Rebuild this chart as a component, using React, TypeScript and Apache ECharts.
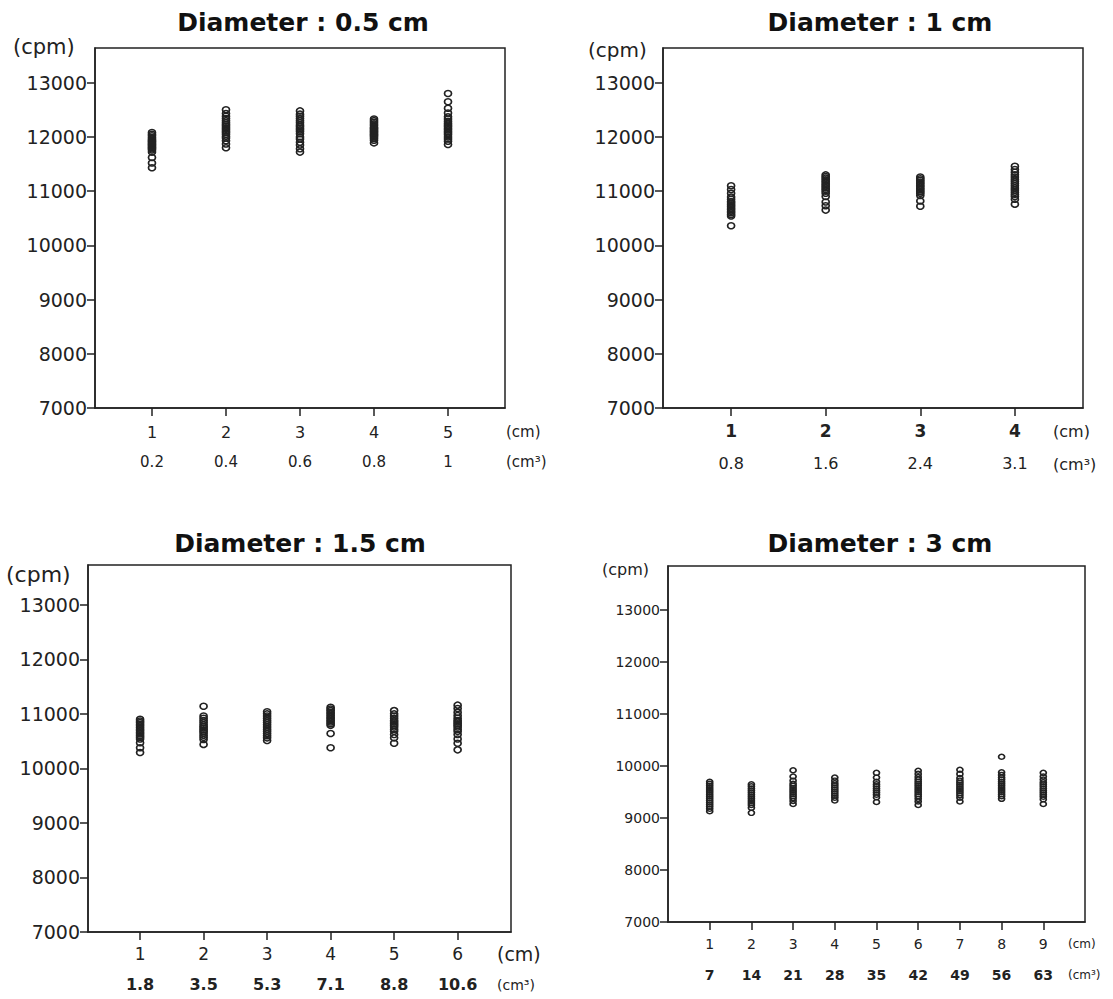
import React, { useEffect, useRef } from "react";
import * as echarts from "echarts";

const FONT = "'DejaVu Sans', sans-serif";

// ---- data ----
const yTicks = [7000, 8000, 9000, 10000, 11000, 12000, 13000];

const titles = ["Diameter : 0.5 cm", "Diameter : 1 cm", "Diameter : 1.5 cm", "Diameter : 3 cm"];

const lengths05 = [1, 2, 3, 4, 5];
const volumes05 = ["0.2", "0.4", "0.6", "0.8", "1"];
const lengths1 = [1, 2, 3, 4];
const volumes1 = ["0.8", "1.6", "2.4", "3.1"];
const lengths15 = [1, 2, 3, 4, 5, 6];
const volumes15 = ["1.8", "3.5", "5.3", "7.1", "8.8", "10.6"];
const lengths3 = [1, 2, 3, 4, 5, 6, 7, 8, 9];
const volumes3 = ["7", "14", "21", "28", "35", "42", "49", "56", "63"];

const cpm05 = [
  [12080, 12050, 12020, 11990, 11960, 11940, 11920, 11900, 11880, 11860, 11840, 11820, 11800, 11780, 11760, 11720, 11620, 11520, 11430],
  [12500, 12430, 12380, 12340, 12300, 12260, 12230, 12200, 12170, 12140, 12110, 12080, 12050, 12010, 11980, 11930, 11870, 11800],
  [12480, 12420, 12380, 12340, 12300, 12260, 12220, 12190, 12160, 12130, 12100, 12060, 12000, 11960, 11900, 11850, 11780, 11720],
  [12330, 12300, 12270, 12240, 12210, 12180, 12160, 12140, 12120, 12100, 12080, 12060, 12040, 12020, 12000, 11970, 11940, 11890],
  [12800, 12650, 12530, 12440, 12370, 12330, 12290, 12250, 12220, 12190, 12160, 12130, 12100, 12070, 12040, 12000, 11960, 11920, 11860],
];
const cpm1 = [
  [11100, 11030, 10960, 10890, 10850, 10810, 10780, 10750, 10720, 10690, 10660, 10630, 10600, 10570, 10540, 10360],
  [11300, 11270, 11240, 11210, 11180, 11150, 11120, 11090, 11060, 11030, 11000, 10960, 10900, 10800, 10730, 10650],
  [11260, 11230, 11200, 11170, 11140, 11110, 11080, 11050, 11020, 10990, 10960, 10920, 10820, 10720],
  [11460, 11400, 11350, 11300, 11260, 11220, 11180, 11140, 11100, 11060, 11020, 10980, 10940, 10900, 10850, 10760],
];
const cpm15 = [
  [10900, 10870, 10840, 10810, 10780, 10750, 10720, 10690, 10660, 10630, 10600, 10570, 10540, 10470, 10380, 10290],
  [11140, 10960, 10920, 10880, 10840, 10800, 10770, 10740, 10710, 10680, 10650, 10610, 10570, 10530, 10440],
  [11040, 11000, 10960, 10920, 10880, 10840, 10800, 10760, 10720, 10680, 10640, 10600, 10560, 10510],
  [11120, 11090, 11060, 11030, 11000, 10970, 10940, 10910, 10880, 10850, 10820, 10790, 10640, 10380],
  [11060, 11000, 10960, 10920, 10880, 10850, 10820, 10790, 10760, 10720, 10680, 10620, 10560, 10460],
  [11160, 11100, 11030, 10970, 10920, 10880, 10850, 10820, 10790, 10760, 10720, 10680, 10620, 10540, 10460, 10340],
];
const cpm3 = [
  [9700, 9660, 9620, 9580, 9540, 9500, 9460, 9420, 9380, 9340, 9300, 9260, 9220, 9180, 9130],
  [9650, 9610, 9570, 9530, 9490, 9450, 9410, 9370, 9330, 9290, 9250, 9200, 9100],
  [9920, 9800, 9720, 9660, 9620, 9580, 9540, 9500, 9460, 9420, 9380, 9330, 9270],
  [9780, 9720, 9670, 9630, 9590, 9550, 9510, 9470, 9430, 9390, 9340],
  [9870, 9780, 9700, 9650, 9610, 9570, 9530, 9490, 9450, 9400, 9310],
  [9910, 9850, 9790, 9740, 9700, 9660, 9620, 9580, 9540, 9500, 9460, 9420, 9370, 9320, 9250],
  [9930, 9850, 9770, 9720, 9680, 9640, 9600, 9560, 9520, 9480, 9440, 9390, 9320],
  [10180, 9880, 9830, 9780, 9740, 9700, 9660, 9620, 9580, 9540, 9500, 9460, 9420, 9370],
  [9870, 9800, 9740, 9690, 9650, 9610, 9570, 9530, 9490, 9450, 9410, 9360, 9270],
];

// ---- layout (pixels) ----
const panels = [
  {
    lengths: lengths05, volumes: volumes05, cpm: cpm05,
    grid: { left: 95, top: 48, width: 410, height: 360 },
    xMin: 0.23, xMax: 5.77, yMax: 13640,
    yFont: 19, aFont: 16, aWeight: "normal", bFont: 15, bWeight: "normal",
    xMargin: 9, lineH: 30, sym: [7, 6],
    title: { x: 303, y: 22 }, cpmText: { x: 13, y: 47, size: 21 },
    cm: { x: 506, y1: 432, y2: 462, size: 15 },
  },
  {
    lengths: lengths1, volumes: volumes1, cpm: cpm1,
    grid: { left: 663, top: 48, width: 420, height: 360 },
    xMin: 0.28, xMax: 4.72, yMax: 13640,
    yFont: 19, aFont: 17, aWeight: "bold", bFont: 16, bWeight: "normal",
    xMargin: 7, lineH: 32, sym: [7, 6],
    title: { x: 880, y: 22 }, cpmText: { x: 588, y: 50, size: 20 },
    cm: { x: 1053, y1: 431, y2: 464, size: 16 },
  },
  {
    lengths: lengths15, volumes: volumes15, cpm: cpm15,
    grid: { left: 88, top: 565, width: 423, height: 367 },
    xMin: 0.18, xMax: 6.84, yMax: 13730,
    yFont: 19, aFont: 17, aWeight: "normal", bFont: 16, bWeight: "bold",
    xMargin: 6, lineH: 31, sym: [7, 6],
    title: { x: 300, y: 543 }, cpmText: { x: 6, y: 574, size: 22 },
    cm: { x: 497, y1: 954, y2: 985, size: 19, size2: 14 },
  },
  {
    lengths: lengths3, volumes: volumes3, cpm: cpm3,
    grid: { left: 668, top: 566, width: 417, height: 356 },
    xMin: 0, xMax: 10, yMax: 13850,
    yFont: 14, aFont: 14, aWeight: "normal", bFont: 14, bWeight: "bold",
    xMargin: 6, lineH: 31, sym: [6, 5],
    title: { x: 880, y: 543 }, cpmText: { x: 602, y: 569, size: 16 },
    cm: { x: 1068, y1: 944, y2: 975, size: 12 },
  },
];

const INK = "#222";

export default function App() {
  const ref = useRef<HTMLDivElement>(null);

  useEffect(() => {
    if (!ref.current) return;
    const chart = echarts.init(ref.current, undefined, { renderer: "svg" });

    const graphic: any[] = [];
    panels.forEach((p, i) => {
      graphic.push({
        type: "text", x: p.title.x, y: p.title.y,
        style: { text: titles[i], align: "center", verticalAlign: "middle", fontFamily: FONT, fontSize: 25, fontWeight: "bold", fill: "#111" },
      });
      graphic.push({
        type: "text", x: p.cpmText.x, y: p.cpmText.y,
        style: { text: "(cpm)", align: "left", verticalAlign: "middle", fontFamily: FONT, fontSize: p.cpmText.size, fill: INK },
      });
      graphic.push({
        type: "text", x: p.cm.x, y: p.cm.y1,
        style: { text: "(cm)", align: "left", verticalAlign: "middle", fontFamily: FONT, fontSize: p.cm.size, fill: INK },
      });
      graphic.push({
        type: "text", x: p.cm.x, y: p.cm.y2,
        style: { text: "(cm³)", align: "left", verticalAlign: "middle", fontFamily: FONT, fontSize: (p.cm as any).size2 || p.cm.size, fill: INK },
      });
    });

    const option: any = {
      animation: false,
      backgroundColor: "#fff",
      grid: panels.map((p) => ({
        ...p.grid, show: true, borderColor: INK, borderWidth: 1.5, backgroundColor: "#fff", containLabel: false,
      })),
      xAxis: panels.map((p, i) => ({
        gridIndex: i, type: "value", min: p.xMin, max: p.xMax,
        axisLine: { show: true, onZero: false, lineStyle: { color: INK, width: 1.5 } },
        axisTick: { show: true, length: 8, customValues: p.lengths, lineStyle: { color: INK, width: 1.5 } },
        splitLine: { show: false },
        axisLabel: {
          customValues: p.lengths, margin: p.xMargin, color: INK,
          formatter: (v: number) => `{a|${v}}\n{b|${p.volumes[p.lengths.indexOf(Math.round(v))]}}`,
          rich: {
            a: { fontFamily: FONT, fontSize: p.aFont, fontWeight: p.aWeight, lineHeight: p.lineH, color: INK },
            b: { fontFamily: FONT, fontSize: p.bFont, fontWeight: p.bWeight, lineHeight: p.lineH, color: INK },
          },
        },
      })),
      yAxis: panels.map((p, i) => ({
        gridIndex: i, type: "value", min: 7000, max: p.yMax,
        axisLine: { show: true, onZero: false, lineStyle: { color: INK, width: 1.5 } },
        axisTick: { show: true, length: 8, customValues: yTicks, lineStyle: { color: INK, width: 1.5 } },
        splitLine: { show: false },
        axisLabel: {
          customValues: yTicks, margin: 8, fontFamily: FONT, fontSize: p.yFont, color: INK,
          formatter: (v: number) => String(Math.round(v)),
        },
      })),
      series: panels.map((p, i) => ({
        type: "scatter", xAxisIndex: i, yAxisIndex: i,
        symbol: "circle", symbolSize: p.sym,
        itemStyle: { color: "rgba(0,0,0,0)", borderColor: INK, borderWidth: 1.6, opacity: 1 },
        data: p.cpm.flatMap((arr, k) => arr.map((v) => [p.lengths[k], v])),
      })),
      graphic,
    };

    chart.setOption(option);
    return () => chart.dispose();
  }, []);

  return (
    <div
      ref={ref}
      style={{ position: "absolute", left: 0, top: 0, width: 1113, height: 999, background: "#fff" }}
    />
  );
}
